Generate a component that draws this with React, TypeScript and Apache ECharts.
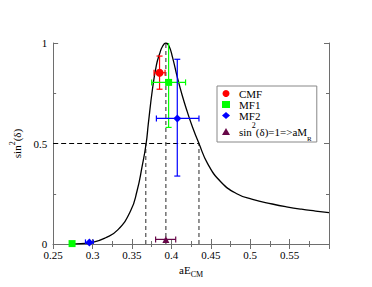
import React, { useEffect, useRef } from 'react';
import * as echarts from 'echarts';

// Phase-shift curve
const curveX = [0.272, 0.285, 0.3, 0.316, 0.332, 0.3483, 0.3565, 0.3626, 0.368, 0.3708, 0.376, 0.381, 0.385, 0.389, 0.393, 0.397, 0.4014, 0.4075, 0.4137, 0.42, 0.427, 0.435, 0.446, 0.4626, 0.483, 0.503, 0.528, 0.546, 0.565, 0.583, 0.6];
const curveY = [0, 0.002, 0.008, 0.03, 0.07, 0.165, 0.265, 0.38, 0.5, 0.6, 0.77, 0.89, 0.945, 0.985, 1.0, 0.985, 0.93, 0.83, 0.74, 0.66, 0.58, 0.5, 0.4, 0.31, 0.25, 0.222, 0.199, 0.185, 0.173, 0.164, 0.156];

// Resonance guides
const resonanceX = 0.393;
const halfLeftX = 0.3675;
const halfRightX = 0.435;
const halfY = 0.5;

// Data points: [x, y, xLow, xHigh, yLow, yHigh]
const cmfPoints = [[0.385, 0.852, 0.378, 0.392, 0.77, 0.935]];
const mf1Points = [[0.3965, 0.804, 0.375, 0.418, 0.58, 1.03], [0.274, 0.002, 0.274, 0.274, 0.002, 0.002]];
const mf2Points = [[0.4075, 0.625, 0.381, 0.435, 0.338, 0.919], [0.296, 0.008, 0.291, 0.301, 0.008, 0.008]];
const resPoints = [[0.393, 0.023, 0.38, 0.4055, 0.023, 0.023]];

const xMin = 0.25, xMax = 0.6, xStep = 0.05;
const yMin = 0, yMax = 1, yStep = 0.5;

const names = ['CMF', 'MF1', 'MF2', 'sin2(δ)=1=>aMR'];
const colors = ['#ff0000', '#00ff00', '#0000ff', '#670748'];
const symbols = ['circle', 'rect', 'diamond', 'triangle'];
const sizes = [8, 7, 8, 7];
const pointSets = [cmfPoints, mf1Points, mf2Points, resPoints];

const FONT = 'Liberation Serif';

export default function App() {
  const ref = useRef<HTMLDivElement>(null);
  useEffect(() => {
    if (!ref.current) return;
    const chart = echarts.init(ref.current, undefined, { renderer: 'svg' });
    const axisColor = '#6e6e6e';
    const xAxisBase = (pos: 'bottom' | 'top', showLabel: boolean) => ({
      type: 'value', position: pos, min: xMin, max: xMax, interval: xStep,
      axisLine: { show: true, lineStyle: { color: axisColor, width: 1 } },
      axisTick: { show: true, inside: true, length: 5, lineStyle: { color: axisColor } },
      minorTick: { show: true, splitNumber: 2, length: 3, lineStyle: { color: axisColor } },
      splitLine: { show: false },
      axisLabel: {
        show: showLabel, color: '#000', fontFamily: FONT, fontSize: 11, lineHeight: 11, margin: 5,
        formatter: (v: number) => (Math.abs(v - xMax) < 1e-9 ? '' : String(+v.toFixed(2))),
      },
    });
    const yAxisBase = (pos: 'left' | 'right', showLabel: boolean) => ({
      type: 'value', position: pos, min: yMin, max: yMax, interval: yStep,
      axisLine: { show: true, lineStyle: { color: axisColor, width: 1 } },
      axisTick: { show: true, inside: true, length: 5, lineStyle: { color: axisColor } },
      minorTick: { show: true, splitNumber: 2, length: 3, lineStyle: { color: axisColor } },
      splitLine: { show: false },
      axisLabel: {
        show: showLabel, color: '#000', fontFamily: FONT, fontSize: 11, lineHeight: 8, margin: 6,
        formatter: (v: number) => String(+v.toFixed(2)),
      },
    });

    const errorSeries = pointSets.map((pts, i) => ({
      type: 'custom', name: 'err' + i, xAxisIndex: 0, yAxisIndex: 0, clip: true, z: 3,
      data: pts,
      renderItem: (params: any, api: any) => {
        const x = api.value(0), y = api.value(1);
        const xl = api.value(2), xh = api.value(3), yl = api.value(4), yh = api.value(5);
        const pL = api.coord([xl, y]), pH = api.coord([xh, y]);
        const pB = api.coord([x, yl]), pT = api.coord([x, yh]);
        const cap = 3;
        const style = { stroke: colors[i], lineWidth: 1.2 };
        const children: any[] = [];
        if (xh > xl) {
          children.push({ type: 'line', shape: { x1: pL[0], y1: pL[1], x2: pH[0], y2: pH[1] }, style });
          children.push({ type: 'line', shape: { x1: pL[0], y1: pL[1] - cap, x2: pL[0], y2: pL[1] + cap }, style });
          children.push({ type: 'line', shape: { x1: pH[0], y1: pH[1] - cap, x2: pH[0], y2: pH[1] + cap }, style });
        }
        if (yh > yl) {
          children.push({ type: 'line', shape: { x1: pB[0], y1: pB[1], x2: pT[0], y2: pT[1] }, style });
          children.push({ type: 'line', shape: { x1: pB[0] - cap, y1: pB[1], x2: pB[0] + cap, y2: pB[1] }, style });
          children.push({ type: 'line', shape: { x1: pT[0] - cap, y1: pT[1], x2: pT[0] + cap, y2: pT[1] }, style });
        }
        return { type: 'group', children };
      },
    }));

    const scatterSeries = pointSets.map((pts, i) => ({
      type: 'scatter', name: names[i], xAxisIndex: 0, yAxisIndex: 0, z: 4,
      symbol: symbols[i], symbolSize: sizes[i],
      itemStyle: { color: colors[i], opacity: 1 },
      data: pts.map((p) => [p[0], p[1]]),
    }));

    const dashGray = { color: '#5a5a5a', width: 1.3, type: [4, 3] as any };
    const lineSeries = (name: string, data: number[][], lineStyle: any, z = 2) => ({
      type: 'line', name, xAxisIndex: 0, yAxisIndex: 0, data, symbol: 'none', z,
      lineStyle, silent: true,
    });

    chart.setOption({
      animation: false,
      backgroundColor: '#fff',
      textStyle: { fontFamily: FONT },
      grid: { left: 43, top: 43, width: 286, height: 201, containLabel: false },
      xAxis: [
        {
          ...xAxisBase('bottom', true),
          name: '{t|aE}{s|CM}', nameLocation: 'middle', nameGap: 13,
          nameTextStyle: {
            fontFamily: FONT,
            rich: {
              t: { fontFamily: FONT, fontSize: 11, color: '#000', verticalAlign: 'top', lineHeight: 12 },
              s: { fontFamily: FONT, fontSize: 8, color: '#000', lineHeight: 19 },
            },
          },
        },
        xAxisBase('top', false),
      ],
      yAxis: [
        {
          ...yAxisBase('left', true),
          name: '{t|sin}{p|2}{t|(δ)}', nameLocation: 'middle', nameGap: 19, nameRotate: 90,
          nameTextStyle: {
            fontFamily: FONT,
            rich: {
              t: { fontFamily: FONT, fontSize: 11, color: '#000', lineHeight: 18 },
              p: { fontFamily: FONT, fontSize: 8, color: '#000', verticalAlign: 'top', lineHeight: 8 },
            },
          },
        },
        yAxisBase('right', false),
      ],
      legend: {
        left: 217, top: 86, orient: 'vertical', selectedMode: false,
        backgroundColor: '#fff', borderColor: '#888', borderWidth: 1, borderRadius: 0,
        padding: [2, 5, 0, 5], itemGap: 0, itemWidth: 8, itemHeight: 7,
        data: names.map((n, i) => ({ name: n, icon: symbols[i], itemStyle: { color: colors[i] } })),
        formatter: (n: string) => (n === names[3] ? '{u|sin}{p|2}{u|(δ)=1=>aM}{s|R}' : '{t|' + n + '}'),
        textStyle: {
          fontFamily: FONT, fontSize: 11, color: '#000', padding: [0, 0, 0, 4],
          rich: {
            t: { fontFamily: FONT, fontSize: 11, color: '#000', lineHeight: 10 },
            u: { fontFamily: FONT, fontSize: 11, color: '#000', lineHeight: 21 },
            p: { fontFamily: FONT, fontSize: 8, color: '#000', lineHeight: 11, verticalAlign: 'top' },
            s: { fontFamily: FONT, fontSize: 7, color: '#000', lineHeight: 15, verticalAlign: 'bottom' },
          },
        },
      },
      series: [
        lineSeries('hline', [[xMin, halfY], [halfRightX, halfY]], { color: '#000', width: 1.2, type: [5, 3] }),
        lineSeries('vleft', [[halfLeftX, 0], [halfLeftX, halfY]], dashGray),
        lineSeries('vright', [[halfRightX, 0], [halfRightX, halfY]], dashGray),
        lineSeries('vres', [[resonanceX, 0], [resonanceX, 1]], dashGray),
        {
          type: 'line', name: 'curve', xAxisIndex: 0, yAxisIndex: 0, symbol: 'none', z: 2, silent: true,
          smooth: 0.5,
          lineStyle: { color: '#000', width: 1.3 },
          data: curveX.map((x, i) => [x, curveY[i]]),
        },
        ...errorSeries,
        ...scatterSeries,
      ],
    });
    return () => chart.dispose();
  }, []);
  return <div ref={ref} style={{ position: 'fixed', left: 0, top: 0, width: 372, height: 287 }} />;
}
